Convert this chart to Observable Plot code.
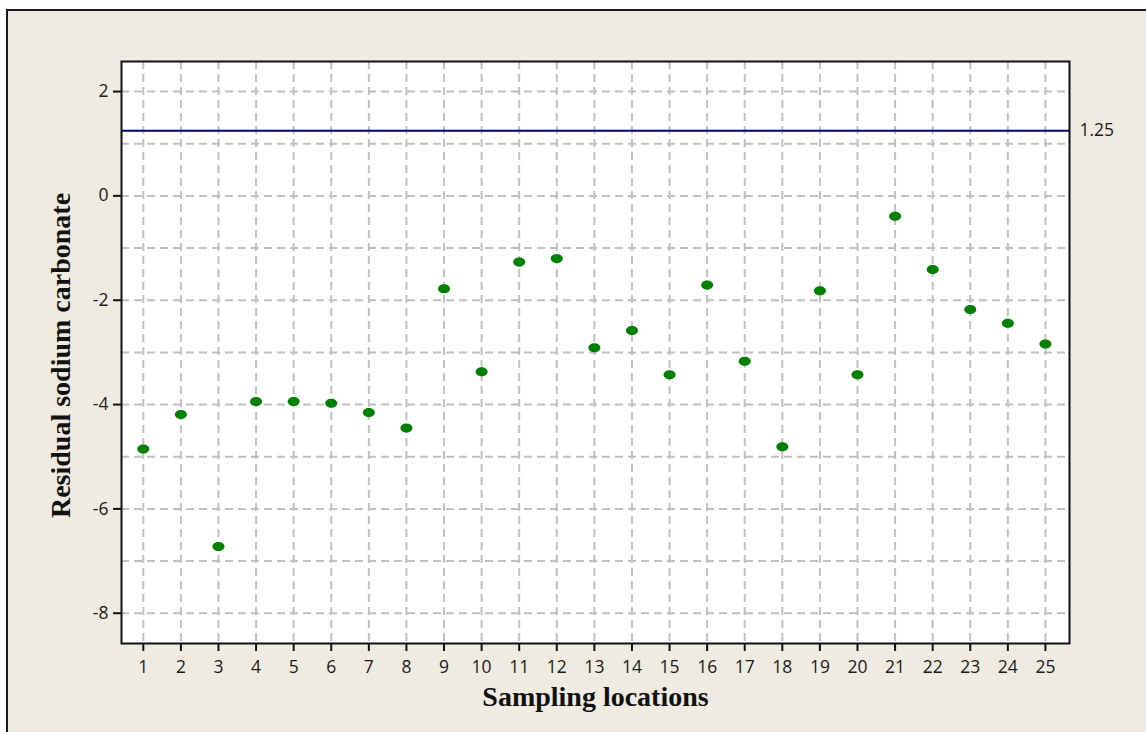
<!DOCTYPE html>
<html>
<head>
<meta charset="utf-8">
<script src="https://cdn.jsdelivr.net/npm/d3@7"></script>
<script src="https://cdn.jsdelivr.net/npm/@observablehq/plot@0.6"></script>
<style>
  html, body { margin: 0; padding: 0; background: #ffffff; width: 1146px; height: 732px; overflow: hidden; }
  #frame { position: absolute; left: 6px; top: 9px; width: 1200px; height: 800px;
           border-left: 2px solid #1a1a1a; border-top: 2px solid #1a1a1a; background: #efebe1; }
  #chart { position: absolute; left: 0; top: 0; }
</style>
</head>
<body>
<div id="frame"></div>
<div id="chart"></div>
<script>
// Data
const locations = [1, 2, 3, 4, 5, 6, 7, 8, 9, 10, 11, 12, 13, 14, 15, 16, 17, 18, 19, 20, 21, 22, 23, 24, 25];
const rsc = [-4.85, -4.19, -6.72, -3.94, -3.94, -3.975, -4.15, -4.45, -1.78, -3.37, -1.265, -1.20, -2.91, -2.58, -3.43,
             -1.71, -3.17, -4.81, -1.82, -3.43, -0.39, -1.41, -2.18, -2.44, -2.84];
const limitValue = [1.25];
const yTicks = [-8, -6, -4, -2, 0, 2];
const yGrid = [-8, -7, -6, -5, -4, -3, -2, -1, 0, 1, 2];
const xLabel = "Sampling locations";
const yLabel = "Residual sodium carbonate";

const points = locations.map((loc, i) => ({loc, value: rsc[i]}));

const ellipse = {
  draw(ctx, size) {
    const r = Math.sqrt(size / Math.PI);
    const rx = r * 1.2, ry = r * 0.9, k = 0.5523;
    ctx.moveTo(rx, 0);
    ctx.bezierCurveTo(rx, ry * k, rx * k, ry, 0, ry);
    ctx.bezierCurveTo(-rx * k, ry, -rx, ry * k, -rx, 0);
    ctx.bezierCurveTo(-rx, -ry * k, -rx * k, -ry, 0, -ry);
    ctx.bezierCurveTo(rx * k, -ry, rx, -ry * k, rx, 0);
    ctx.closePath();
  }
};

const sans = "'Open Sans', 'DejaVu Sans', sans-serif";
const serif = "'Liberation Serif', 'DejaVu Serif', serif";
const grid = {stroke: "#c0c0c0", strokeOpacity: 1, strokeWidth: 2, strokeDasharray: "8,5"};

const chart = Plot.plot({
  width: 1146,
  height: 732,
  marginLeft: 121,
  marginRight: 77,
  marginTop: 61,
  marginBottom: 89,
  style: {background: "transparent", fontFamily: sans, overflow: "visible", color: "#1a1a1a"},
  x: {domain: [0.42, 25.64]},
  y: {domain: [-8.58, 2.576]},
  marks: [
    Plot.frame({fill: "white", stroke: null}),
    Plot.gridX(locations, grid),
    Plot.gridY(yGrid, grid),
    Plot.ruleY(limitValue, {stroke: "#000080", strokeWidth: 2}),
    Plot.dot(points, {x: "loc", y: "value", r: 5, symbol: ellipse, fill: "#008000", stroke: null}),
    Plot.frame({stroke: "#111", strokeWidth: 2}),
    Plot.axisX(locations, {tickSize: 8, tickPadding: 9, strokeWidth: 2, fontSize: 17.5, tickFormat: d => String(d), label: null, stroke: "#111"}),
    Plot.axisY(yTicks, {tickSize: 8, tickPadding: 5, strokeWidth: 2, fontSize: 17.5, tickFormat: d => String(d), label: null, stroke: "#111"}),
    Plot.text(limitValue, {y: d => d, text: d => String(d), frameAnchor: "right", textAnchor: "start", dx: 10, fontSize: 17.5, fill: "#1a1a1a"}),
    Plot.text([xLabel], {frameAnchor: "bottom", textAnchor: "middle", lineAnchor: "middle", dy: 54, fontSize: 28, fontWeight: "bold", fontFamily: serif, fill: "#111"}),
    Plot.text([yLabel], {frameAnchor: "left", textAnchor: "middle", lineAnchor: "middle", dx: -60, dy: 3, rotate: -90, fontSize: 28, fontWeight: "bold", fontFamily: serif, fill: "#111"})
  ]
});
document.getElementById("chart").appendChild(chart);
</script>
</body>
</html>
